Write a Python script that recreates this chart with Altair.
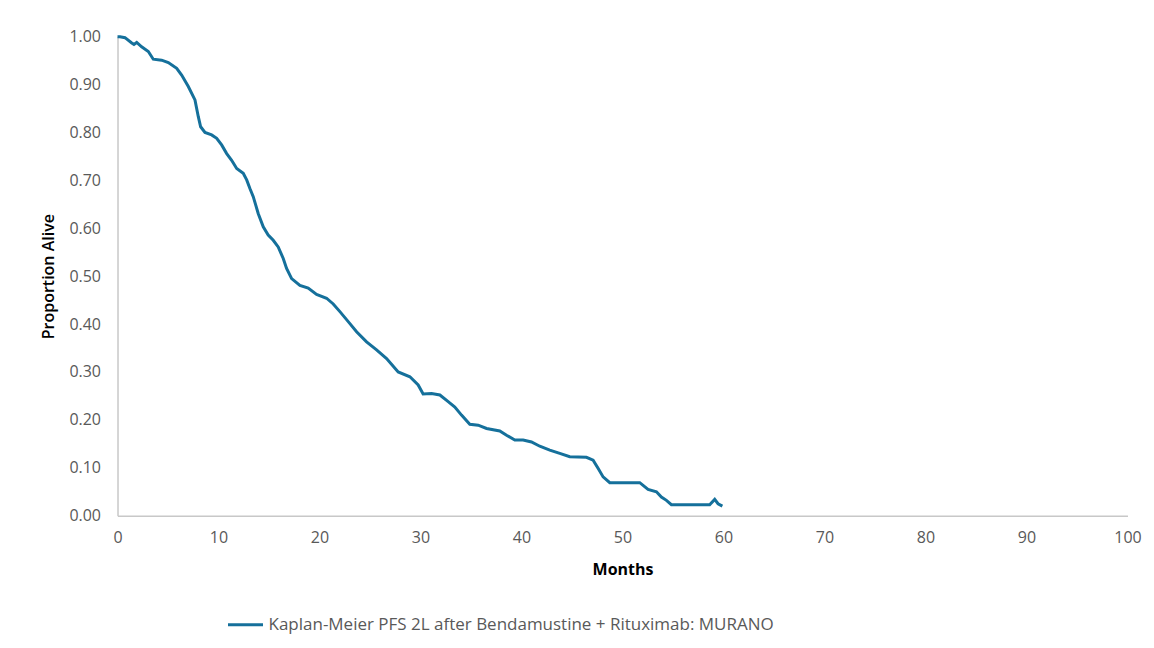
import altair as alt
import pandas as pd

# Kaplan-Meier PFS curve
months = [0.00, 0.25, 0.74, 1.41, 1.63, 1.90, 2.39, 3.05, 3.54, 4.37, 5.03, 5.86, 6.35,
          7.01, 7.67, 8.00, 8.23, 8.66, 9.32, 9.82, 10.31, 10.81, 11.30, 11.80, 12.45,
          12.79, 13.11, 13.44, 13.93, 14.43, 14.92, 15.42, 15.91, 16.41, 16.74, 17.24,
          18.06, 18.88, 19.71, 20.70, 21.36, 22.02, 23.01, 23.67, 24.66, 25.65, 26.64,
          27.79, 28.95, 29.77, 30.26, 31.09, 31.92, 32.74, 33.40, 34.06, 34.88, 35.71,
          36.54, 37.85, 38.52, 39.34, 40.16, 40.99, 41.81, 42.80, 43.79, 44.78, 46.43,
          47.09, 47.58, 48.08, 48.74, 51.71, 52.53, 53.36, 53.85, 54.35, 54.84, 58.63,
          59.13, 59.46, 59.89]
proportion = [1.000, 1.000, 0.998, 0.987, 0.984, 0.988, 0.979, 0.969, 0.953, 0.951, 0.946,
              0.934, 0.920, 0.896, 0.868, 0.833, 0.812, 0.800, 0.795, 0.788, 0.774, 0.756,
              0.742, 0.725, 0.715, 0.701, 0.683, 0.666, 0.631, 0.603, 0.586, 0.575, 0.561,
              0.537, 0.516, 0.495, 0.481, 0.475, 0.462, 0.454, 0.442, 0.426, 0.401, 0.384,
              0.363, 0.346, 0.328, 0.300, 0.290, 0.273, 0.254, 0.255, 0.252, 0.238, 0.227,
              0.210, 0.191, 0.189, 0.182, 0.177, 0.168, 0.158, 0.158, 0.154, 0.145, 0.137,
              0.130, 0.123, 0.122, 0.116, 0.099, 0.081, 0.069, 0.069, 0.055, 0.050, 0.039,
              0.032, 0.023, 0.023, 0.034, 0.025, 0.020]
series_name = "Kaplan-Meier PFS 2L after Bendamustine + Rituximab: MURANO"
x_ticks = list(range(0, 101, 10))
y_ticks = [round(i / 10, 1) for i in range(0, 11)]

df = pd.DataFrame({"Months": months, "Proportion": proportion, "Series": [series_name] * len(months)})

FONT = "Open Sans"
LINE_COLOR = "#15709b"

chart = (
    alt.Chart(df)
    .mark_line(strokeWidth=3, interpolate="linear")
    .encode(
        x=alt.X(
            "Months:Q",
            scale=alt.Scale(domain=[0, 100], nice=False),
            axis=alt.Axis(
                values=x_ticks, title="Months", ticks=False, grid=False,
                labelPadding=14, titlePadding=16, labelFontSize=16,
                labelColor="#595959", titleFontSize=16, titleFontWeight="bold",
                titleColor="#000000", domainColor="#c8c8c8", domainWidth=1.5,
                labelFont=FONT, titleFont=FONT, labelFlush=False,
            ),
        ),
        y=alt.Y(
            "Proportion:Q",
            scale=alt.Scale(domain=[0, 1], nice=False),
            axis=alt.Axis(
                values=y_ticks, format=".2f", title="Proportion Alive", ticks=False,
                grid=False, labelPadding=17, titlePadding=12, labelFontSize=16,
                labelColor="#595959", titleFontSize=16, titleFontWeight=600,
                titleColor="#000000", domainColor="#c8c8c8", domainWidth=1.5,
                labelFont=FONT, titleFont=FONT, labelFlush=False,
            ),
        ),
        color=alt.Color(
            "Series:N",
            scale=alt.Scale(range=[LINE_COLOR]),
            legend=alt.Legend(
                title=None, orient="none", legendX=109, legendY=569,
                symbolType="stroke", symbolSize=1225, symbolStrokeWidth=3,
                labelFontSize=17, labelColor="#595959", labelFont=FONT, labelOffset=4,
                labelLimit=900,
            ),
        ),
    )
    .properties(
        width=1010,
        height=479,
        background="#ffffff",
        padding={"left": 109.5, "top": 28.7, "right": 18, "bottom": 124},
        autosize=alt.AutoSizeParams(type="none"),
    )
    .configure_view(stroke=None, strokeWidth=0)
)

chart.save("out.html", embed_options={"renderer": "svg", "actions": False})
